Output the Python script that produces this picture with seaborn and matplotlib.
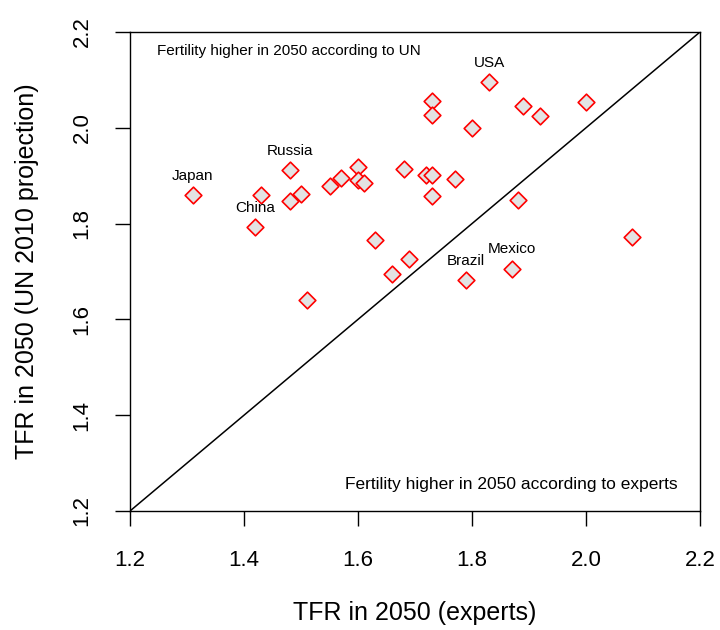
import matplotlib
matplotlib.use("Agg")
import matplotlib.pyplot as plt
import numpy as np
import pandas as pd
import seaborn as sns

# TFR in 2050: expert opinion vs UN 2010 projection
experts = [1.31, 1.43, 1.42, 1.48, 1.48, 1.50, 1.51, 1.55, 1.57, 1.60, 1.60,
           1.61, 1.63, 1.69, 1.66, 1.68, 1.72, 1.73, 1.73, 1.73, 1.73, 1.83,
           1.80, 1.89, 1.92, 2.00, 1.77, 1.88, 2.08, 1.87, 1.79]
un_proj = [1.859, 1.860, 1.793, 1.911, 1.848, 1.862, 1.641, 1.879, 1.895,
           1.919, 1.890, 1.885, 1.766, 1.726, 1.694, 1.913, 1.902, 1.902,
           1.857, 2.055, 2.027, 2.095, 2.000, 2.045, 2.025, 2.054, 1.893,
           1.849, 1.772, 1.706, 1.682]
country = ["Japan", "", "China", "Russia", "", "", "", "", "", "", "",
           "", "", "", "", "", "", "", "", "", "", "USA",
           "", "", "", "", "", "", "", "Mexico", "Brazil"]
ticks = [1.2, 1.4, 1.6, 1.8, 2.0, 2.2]

df = pd.DataFrame({"experts": experts, "un": un_proj, "country": country})

sns.set_style("white")
plt.rcParams["font.family"] = ["Liberation Sans", "DejaVu Sans"]
plt.rcParams["text.color"] = "black"
plt.rcParams["axes.labelcolor"] = "black"

fig = plt.figure(figsize=(7.2, 6.3), dpi=100)
ax = fig.add_axes([130 / 720, 119 / 630, 570 / 720, 479 / 630])

ax.plot([1.2, 2.2], [1.2, 2.2], color="black", linewidth=1.1, zorder=1)
sns.scatterplot(data=df, x="experts", y="un", marker="D", s=72,
                color="#e3e3e3", edgecolor="red", linewidth=1.2,
                ax=ax, zorder=3, legend=False)

for _, row in df[df["country"] != ""].iterrows():
    ax.annotate(row["country"], (row["experts"], row["un"]),
                xytext=(0, 14), textcoords="offset points",
                ha="center", va="center", fontsize=11, color="black")

ax.text(1.247, 2.161, "Fertility higher in 2050 according to UN",
        ha="left", va="center", fontsize=11, color="black")
ax.text(2.161, 1.256, "Fertility higher in 2050 according to experts",
        ha="right", va="center", fontsize=12.5, color="black")

ax.set_xlim(1.2, 2.2)
ax.set_ylim(1.2, 2.2)
ax.set_xticks(ticks)
ax.set_yticks(ticks)
ax.set_xticklabels([f"{t:.1f}" for t in ticks])
ax.set_yticklabels([f"{t:.1f}" for t in ticks])
ax.tick_params(axis="both", direction="out", length=11, width=1.0,
               labelsize=16, color="black", labelcolor="black",
               bottom=True, left=True)
ax.tick_params(axis="x", pad=17)
ax.tick_params(axis="y", pad=16, labelrotation=90)
for lab in ax.get_yticklabels():
    lab.set_verticalalignment("center")

for sp in ax.spines.values():
    sp.set_color("black")
    sp.set_linewidth(1.0)

ax.set_xlabel("TFR in 2050 (experts)", fontsize=18)
ax.set_ylabel("TFR in 2050 (UN 2010 projection)", fontsize=18)
ax.xaxis.set_label_coords(0.5, (511 - 601) / 479)
ax.yaxis.set_label_coords((39 - 130) / 570, 0.5)

fig.savefig("out.png", dpi=100)
